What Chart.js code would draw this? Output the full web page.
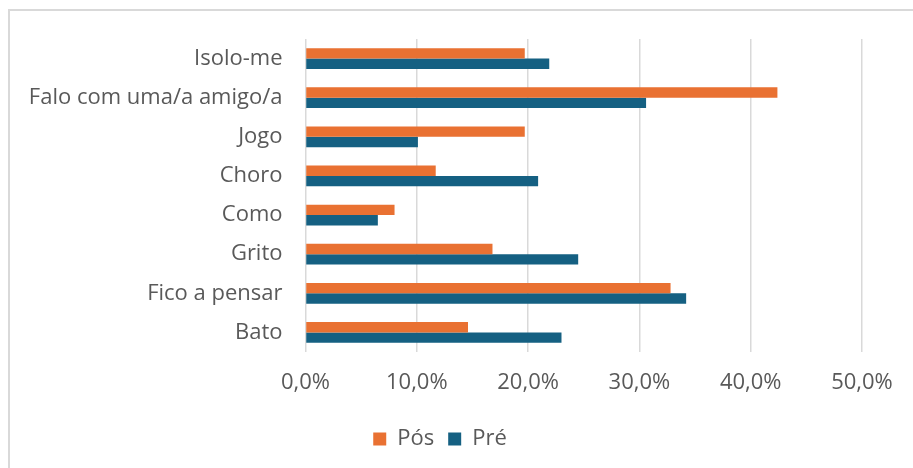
<!DOCTYPE html>
<html>
<head>
<meta charset="utf-8">
<script src="https://cdn.jsdelivr.net/npm/chart.js@4"></script>
<style>
    html, body { margin: 0; padding: 0; background: #ffffff; overflow: hidden; }
    .frame {
        position: absolute;
        left: 8px;
        top: 9px;
        width: 940px;
        height: 500px;
        border: 2px solid #d9d9d9;
        box-sizing: border-box;
    }
    #chart { position: absolute; left: 0; top: 0; }
</style>
</head>
<body>
<div class="frame"></div>
<canvas id="chart" width="913" height="468"></canvas>
<script>
const categories = [
    "Isolo-me",
    "Falo com uma/a amigo/a",
    "Jogo",
    "Choro",
    "Como",
    "Grito",
    "Fico a pensar",
    "Bato"
];

// percentages
const posValues = [19.7, 42.4, 19.7, 11.7, 8.0, 16.8, 32.8, 14.6];
const preValues = [21.9, 30.6, 10.1, 20.9, 6.5, 24.5, 34.2, 23.0];

const xTicks = [0, 10, 20, 30, 40, 50];

const textColor = "#595959";
const gridColor = "#d9d9d9";
const fontFamily = "'Open Sans', sans-serif";

function percentLabel(value) {
    return value.toFixed(1).replace(".", ",") + "%";
}

new Chart(document.getElementById("chart"), {
    type: "bar",

    data: {
        labels: categories,

        datasets: [
            {
                label: "Pós",
                data: posValues,
                backgroundColor: "#e97132",
                borderWidth: 0,
                barPercentage: 1,
                categoryPercentage: 0.53
            },
            {
                label: "Pré",
                data: preValues,
                backgroundColor: "#156082",
                borderWidth: 0,
                barPercentage: 1,
                categoryPercentage: 0.53
            }
        ]
    },

    options: {
        indexAxis: "y",
        responsive: false,
        devicePixelRatio: 1,
        animation: false,

        layout: {
            padding: { top: 39, left: 18, right: 51, bottom: 8 }
        },

        scales: {
            x: {
                min: xTicks[0],
                max: xTicks[xTicks.length - 1],
                afterBuildTicks: (scale) => {
                    scale.ticks = xTicks.map((v) => ({ value: v }));
                },
                afterFit: (scale) => {
                    scale.height = 62;
                },
                grid: {
                    color: gridColor,
                    lineWidth: 1.5,
                    drawTicks: false
                },
                border: { display: false },
                ticks: {
                    color: textColor,
                    padding: 18,
                    maxRotation: 0,
                    font: { family: fontFamily, size: 22 },
                    callback: (value) => percentLabel(value)
                }
            },
            y: {
                afterFit: (scale) => {
                    scale.width = 305.5 - 18;
                },
                grid: { display: false, drawTicks: false },
                border: { display: false },
                ticks: {
                    color: textColor,
                    padding: 23,
                    font: { family: fontFamily, size: 22 }
                }
            }
        },

        plugins: {
            legend: {
                position: "bottom",
                labels: {
                    color: textColor,
                    boxWidth: 13,
                    boxHeight: 13,
                    padding: 14,
                    font: { family: fontFamily, size: 22 }
                }
            },
            tooltip: { enabled: false }
        }
    }
});
</script>
</body>
</html>
